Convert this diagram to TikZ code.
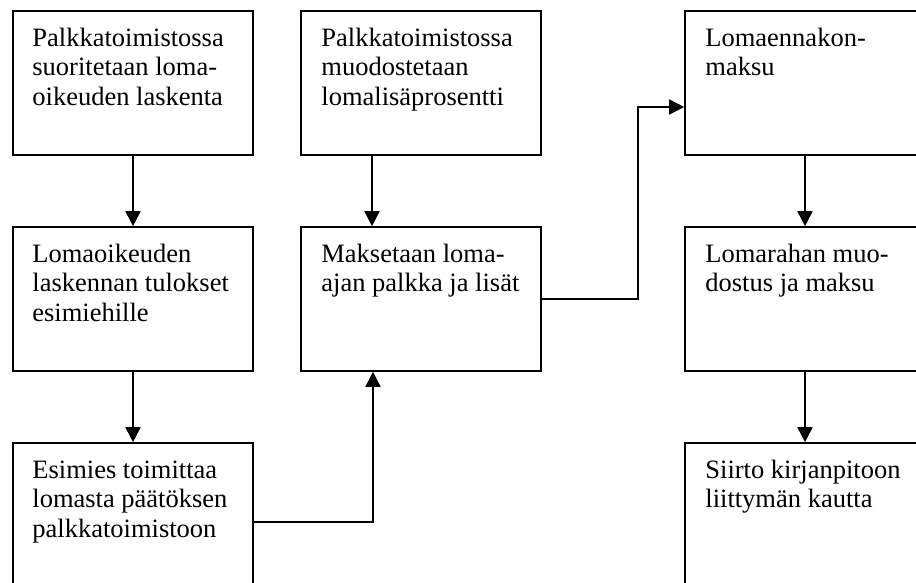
\documentclass[tikz,border=0pt]{standalone}
\usepackage{fontspec}
\setmainfont{Liberation Serif}
\usetikzlibrary{arrows.meta}
\tikzset{
  box/.style={draw=black, line width=1.6pt, rectangle, minimum width=240pt, minimum height=144pt, inner sep=0pt, fill=white},
  txt/.style={anchor=north west, inner sep=0pt, align=left, font=\fontsize{26.5}{29.5}\selectfont},
  arr/.style={line width=1.6pt, -{Triangle[length=15pt,width=15pt]}},
  con/.style={line width=1.6pt}
}
\begin{document}
\begin{tikzpicture}[x=1pt,y=-1pt]
\path[use as bounding box] (0,0) rectangle (916,583);
\clip (0,0) rectangle (916,583);
\fill[white] (0,0) rectangle (916,583);
% boxes
\node[box] (b11) at (133,83) {};
\node[box] (b12) at (133,299) {};
\node[box] (b13) at (133,515) {};
\node[box] (b21) at (421,83) {};
\node[box] (b22) at (421,299) {};
\node[box] (b31) at (805,83) {};
\node[box] (b32) at (805,299) {};
\node[box] (b33) at (805,515) {};
% texts
\node[txt] (t11) at ([xshift=20pt,yshift=-15.35pt]b11.north west) {\strut Palkkatoimistossa\\suoritetaan loma-\\oikeuden laskenta};
\node[txt] (t12) at ([xshift=20pt,yshift=-15.35pt]b12.north west) {\strut Lomaoikeuden\\laskennan tulokset\\esimiehille};
\node[txt] (t13) at ([xshift=20pt,yshift=-15.35pt]b13.north west) {\strut Esimies toimittaa\\lomasta päätöksen\\palkkatoimistoon};
\node[txt] (t21) at ([xshift=21pt,yshift=-15.35pt]b21.north west) {\strut Palkkatoimistossa\\muodostetaan\\lomalisäprosentti};
\node[txt] (t22) at ([xshift=21pt,yshift=-15.35pt]b22.north west) {\strut Maksetaan loma-\\ajan palkka ja lisät};
\node[txt] (t31) at ([xshift=21pt,yshift=-15.35pt]b31.north west) {\strut Lomaennakon-\\maksu};
\node[txt] (t32) at ([xshift=21pt,yshift=-15.35pt]b32.north west) {\strut Lomarahan muo-\\dostus ja maksu};
\node[txt] (t33) at ([xshift=21pt,yshift=-15.35pt]b33.north west) {\strut Siirto kirjanpitoon\\liittymän kautta};
% connectors
\draw[arr] (b11.south) -- (b12.north);
\draw[arr] (b12.south) -- (b13.north);
\draw[arr] ([xshift=-49pt]b21.south) -- ([xshift=-49pt]b22.north);
\draw[arr] ([yshift=-7pt]b13.east) -| ([xshift=-48pt]b22.south);
\draw[arr] (b22.east) -- ++(96,0) |- ([yshift=-24pt]b31.west);
\draw[arr] (b31.south) -- (b32.north);
\draw[arr] (b32.south) -- (b33.north);
\end{tikzpicture}
\end{document}
